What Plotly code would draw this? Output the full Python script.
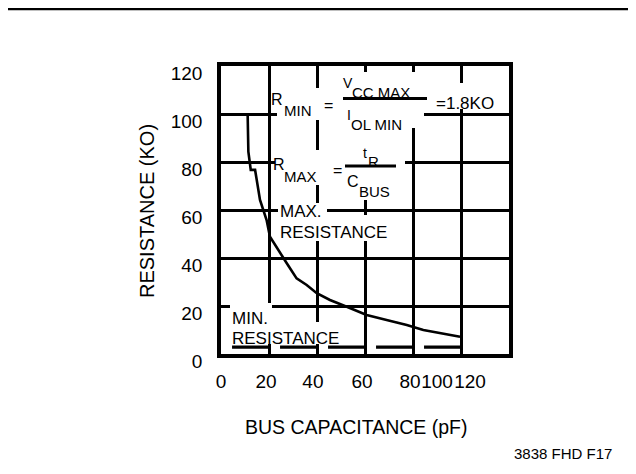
import plotly.graph_objects as go

# ---- data ----
curve_x = [11.1, 11.4, 12.4, 14.2, 16.25, 17.6, 19.0, 20.4, 24.6, 27.4, 31.5, 35.7, 39.9, 45.4, 52.4, 60.7, 69.0, 77.4, 84.3, 92.6, 99.6]
curve_y = [100, 84.3, 76.7, 76.7, 64.2, 60.0, 55.8, 48.9, 42.0, 37.8, 31.5, 28.75, 25.3, 22.5, 19.7, 16.25, 14.2, 12.1, 10.0, 8.6, 7.2]
min_x = [4.6, 100]
min_y = [2.9, 2.9]
grid_vals = [0, 20, 40, 60, 80, 100, 120]
y_tick_labels = ["0", "20", "40", "60", "80", "100", "120"]
x_tick_labels = ["0", "20", "40", "60", "80", "100", "120"]
x_tick_pos = [0, 18.75, 38.3, 58.75, 78.75, 90.0, 103.75]

FONT = "Arial, Liberation Sans, Helvetica, sans-serif"
L, T, S = 221, 66, 288  # plot left, top, size in screen px
PAGE_OFF = 8            # default body margin of the html page

def X(p):
    return (p - L) / 2.4

def Y(p):
    return (T + S - p) / 2.4

fig = go.Figure()
fig.add_trace(go.Scatter(x=curve_x, y=curve_y, mode="lines",
                         line=dict(color="black", width=2.6), hoverinfo="skip", showlegend=False))
fig.add_trace(go.Scatter(x=min_x, y=min_y, mode="lines", xaxis="x2",
                         line=dict(color="black", width=3.2, dash="37px,11px"),
                         hoverinfo="skip", showlegend=False))

shapes = []
# white masks where text interrupts the grid
masks = [
    (277, 88, 340, 120),   # R_MIN =
    (340, 72, 424, 128),   # Vcc/Iol fraction
    (431, 83, 500, 109),   # =1.8KO
    (275, 150, 340, 185),  # R_MAX =
    (340, 128, 405, 200),  # tR/Cbus
    (278, 203, 327, 222),  # MAX.
    (278, 215, 392, 241),  # RESISTANCE
    (230, 303, 272, 327),  # MIN.
    (230, 322, 345, 344),  # RESISTANCE
]
for (x0, y0, x1, y1) in masks:
    shapes.append(dict(type="rect", xref="x", yref="y", x0=X(x0), x1=X(x1), y0=Y(y0), y1=Y(y1),
                       fillcolor="white", line=dict(width=0), layer="between"))
# fraction bars
shapes.append(dict(type="line", xref="x", yref="y", x0=X(343), x1=X(427), y0=Y(98.5), y1=Y(98.5),
                   line=dict(color="black", width=3), layer="above"))
shapes.append(dict(type="line", xref="x", yref="y", x0=X(345), x1=X(396), y0=Y(166), y1=Y(166),
                   line=dict(color="black", width=3), layer="above"))
# header bar
shapes.append(dict(type="line", xref="paper", yref="paper", x0=(7 - L) / S, x1=(640 - L) / S,
                   y0=(T + S - 8.5) / S, y1=(T + S - 8.5) / S,
                   line=dict(color="black", width=3.4), layer="above"))

ann = []
def txt(t, xl, yc, size=15, anchor="left"):
    ann.append(dict(text=t, x=X(xl), y=Y(yc), xref="x", yref="y", showarrow=False,
                    xanchor=anchor, yanchor="middle", borderpad=0,
                    font=dict(family=FONT, size=size, color="black")))

txt("R", 270, 99, 16)
txt("MIN", 283, 110, 15)
txt("=", 323, 105, 16)
txt("V", 342, 82.5, 14)
txt("CC MAX", 351, 92, 15)
txt("I", 346, 115, 14)
txt("OL MIN", 350, 124, 15)
txt("=1.8KO", 435, 103.5, 17)
txt("R", 272, 164, 16)
txt("MAX", 283, 176, 15)
txt("=", 332, 170, 16)
txt("t", 362, 152.5, 14)
txt("R", 367, 161.5, 15)
txt("C", 346, 181.5, 16)
txt("BUS", 358, 191, 15)
txt("MAX.", 279, 211.5, 17)
txt("RESISTANCE", 279, 232.5, 17)
txt("MIN.", 231, 318.5, 17)
txt("RESISTANCE", 231, 338.5, 17)

ann.append(dict(text="RESISTANCE (KO)", x=(147 - L) / S, y=(T + S - 211) / S, xref="paper", yref="paper",
                showarrow=False, textangle=-90, xanchor="center", yanchor="middle",
                font=dict(family=FONT, size=20, color="black")))
ann.append(dict(text="BUS CAPACITANCE (pF)", x=(356 - L) / S, y=(T + S - 427) / S, xref="paper", yref="paper",
                showarrow=False, xanchor="center", yanchor="middle",
                font=dict(family=FONT, size=19.5, color="black")))
ann.append(dict(text="3838 FHD F17", x=(563 - L) / S, y=(T + S - 453) / S, xref="paper", yref="paper",
                showarrow=False, xanchor="center", yanchor="middle",
                font=dict(family=FONT, size=15, color="black")))

ml = L - PAGE_OFF
mt = T - PAGE_OFF
fig.update_layout(
    width=636, height=474,
    margin=dict(l=ml, r=636 - ml - S, t=mt, b=474 - mt - S),
    paper_bgcolor="white", plot_bgcolor="white",
    showlegend=False,
    shapes=shapes, annotations=ann,
    xaxis=dict(range=[0, 120], tickvals=grid_vals, showticklabels=False, ticks="", automargin=False,
               showgrid=True, gridcolor="black", gridwidth=3.3, zeroline=False,
               showline=True, linecolor="black", linewidth=3.5, mirror=True, fixedrange=True),
    xaxis2=dict(range=[0, 120], overlaying="x", anchor="y", side="bottom", automargin=False,
                tickvals=x_tick_pos, ticktext=x_tick_labels, ticks="", tickangle=0,
                showgrid=False, zeroline=False, showline=False, ticklabelstandoff=14,
                tickfont=dict(family=FONT, size=19, color="black"), fixedrange=True),
    yaxis=dict(range=[0, 120], tickvals=grid_vals, ticktext=y_tick_labels, ticks="", automargin=False,
               showgrid=True, gridcolor="black", gridwidth=3.3, zeroline=False,
               showline=True, linecolor="black", linewidth=3.5, mirror=True,
               ticklabelshift=7, ticklabelstandoff=11,
               tickfont=dict(family=FONT, size=19, color="black"), fixedrange=True),
)

fig.write_html("out.html")
